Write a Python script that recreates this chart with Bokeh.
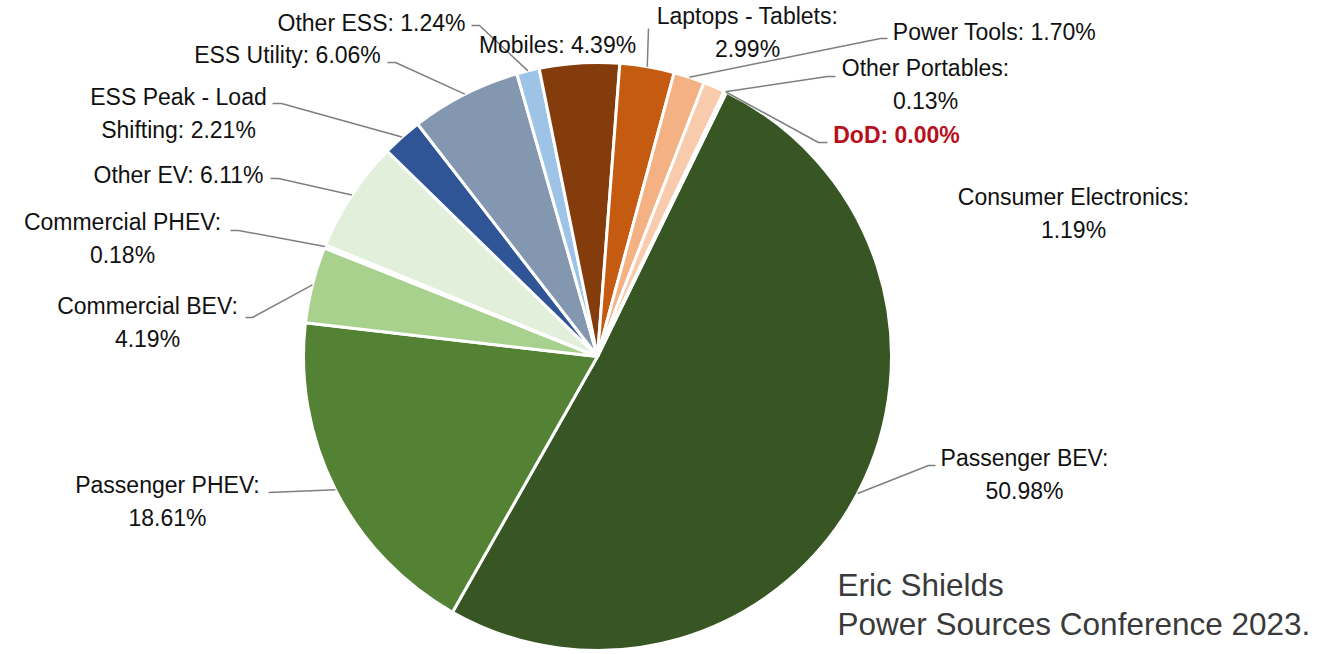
import math
from bokeh.plotting import figure
from bokeh.models import Range1d, ColumnDataSource
from bokeh.core.properties import value
from bokeh.embed import file_html
from bokeh.resources import INLINE

# ---------------- data ----------------
categories = ["Passenger BEV", "Passenger PHEV", "Commercial BEV", "Commercial PHEV",
              "Other EV", "ESS Peak - Load Shifting", "ESS Utility", "Other ESS",
              "Mobiles", "Laptops - Tablets", "Power Tools", "Consumer Electronics",
              "Other Portables", "DoD"]
shares = [50.98, 18.61, 4.19, 0.18, 6.11, 2.21, 6.06, 1.24,
          4.39, 2.99, 1.70, 1.19, 0.13, 0.00]
colors = ["#375623", "#548235", "#a9d18e", "#c5e0b4", "#e2efda", "#2f5597",
          "#8497b0", "#9dc3e6", "#843c0c", "#c55a11", "#f4b183", "#f8cbad",
          "#fbe5d6", "#c00000"]
# where each label wraps onto a second line
label_break = ["colon", "colon", "colon", "colon", None, "Load ", None, None,
               None, "colon", None, "colon", "colon", None]
attribution = ["Eric Shields", "Power Sources Conference 2023."]

# ---------------- layout (screen pixels, y down) ----------------
W, H = 1335, 654
CX, CY, R = 597, 356, 294
START_DEG = 26.0  # clockwise from 12 o'clock where the first slice begins
label_pos = [(1024, 474), (167, 501), (147, 322), (122, 238), (178, 174),
             (178, 113), (287, 54), (371, 22), (557, 44), (747, 32),
             (994, 31), (1073, 213), (925, 84), (896, 134)]
leader_pts = [[(928, 465), (935, 465)],
              [(268, 492)],
              [(252, 317), (245, 317)],
              [(238, 230), (230, 230)],
              [(278, 178), (270, 178)],
              [(281, 103), (272, 103)],
              [(395, 62), (387, 62)],
              [(479, 25), (471, 25)],
              None,
              [(648, 28)],
              [(880, 38), (887, 38)],
              None,
              [(827, 76), (835, 76)],
              [(818, 142), (827, 142)]]


def fy(y):
    return H - y


p = figure(width=W, height=H, x_range=Range1d(0, W), y_range=Range1d(0, H),
           x_axis_location=None, y_axis_location=None, toolbar_location=None,
           output_backend="svg", min_border=0, outline_line_color=None,
           background_fill_color="white", border_fill_color="white")
p.grid.visible = False

total = sum(shares)
starts, ends, mids = [], [], []
acc = START_DEG
for v in shares:
    span = v / total * 360.0
    starts.append(acc)
    ends.append(acc + span)
    mids.append(acc + span / 2)
    acc += span

# Bokeh angles: counter-clockwise from +x; convert clockwise-from-top
keep = [i for i, v in enumerate(shares) if v > 0]
src = ColumnDataSource(dict(
    x=[CX] * len(keep), y=[fy(CY)] * len(keep),
    start=[math.radians(90 - ends[i]) for i in keep],
    end=[math.radians(90 - starts[i]) for i in keep],
    color=[colors[i] for i in keep],
))
p.wedge(x="x", y="y", radius=R, start_angle="start", end_angle="end",
        fill_color="color", line_color="white", line_width=3, source=src)

# leader lines
for i, pts in enumerate(leader_pts):
    if pts is None:
        continue
    th = math.radians(mids[i])
    ex = CX + R * math.sin(th)
    ey = CY - R * math.cos(th)
    xs = [ex] + [q[0] for q in pts]
    ys = [fy(ey)] + [fy(q[1]) for q in pts]
    p.line(xs, ys, line_color="#7f7f7f", line_width=1.5)

# labels
def make_label(name, v, brk):
    s = f"{name}: {v:.2f}%"
    if brk == "colon":
        s = s.replace(": ", ":\n", 1)
    elif brk:
        s = s.replace(brk, brk.strip() + "\n", 1)
    return s

for i, name in enumerate(categories):
    txt = make_label(name, shares[i], label_break[i])
    lx, ly = label_pos[i]
    is_dod = name == "DoD"
    p.text(x=[lx], y=[fy(ly)], text=[txt], text_align="center",
           text_baseline="middle", text_font=value("Liberation Sans"),
           text_font_size="23px", text_line_height=1.3,
           text_color="#b80f1c" if is_dod else "#111111",
           text_font_style="bold" if is_dod else "normal")

# attribution
for j, line in enumerate(attribution):
    p.text(x=[837], y=[fy(584 + 39 * j)], text=[line], text_align="left",
           text_baseline="alphabetic", text_font=value("Liberation Sans"),
           text_font_size="31.5px", text_color="#3a3a3a")

open("out.html", "w").write(file_html(p, INLINE))
